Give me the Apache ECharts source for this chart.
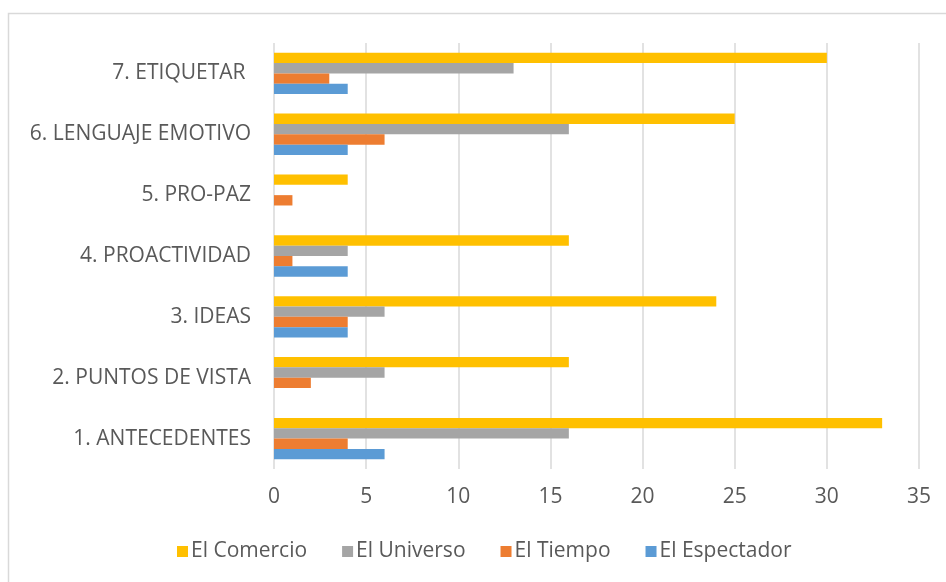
<!DOCTYPE html>
<html>
<head>
<meta charset="utf-8">
<script src="https://cdn.jsdelivr.net/npm/echarts@6/dist/echarts.min.js"></script>
<style>html,body{margin:0;padding:0;background:#fff}#c{width:946px;height:582px}</style>
</head>
<body>
<div id="c"></div>
<script>
var categories = ['1. ANTECEDENTES', '2. PUNTOS DE VISTA', '3. IDEAS', '4. PROACTIVIDAD', '5. PRO-PAZ', '6. LENGUAJE EMOTIVO', '7. ETIQUETAR '];
var elEspectador = [6, 0, 4, 4, 0, 4, 4];
var elTiempo = [4, 2, 4, 1, 1, 6, 3];
var elUniverso = [16, 6, 6, 4, 0, 16, 13];
var elComercio = [33, 16, 24, 16, 4, 25, 30];
var xTicks = [0, 5, 10, 15, 20, 25, 30, 35];

var font = '"Open Sans", sans-serif';
var txt = '#595959';
var chart = echarts.init(document.getElementById('c'));
function s(name, data, color) {
  return { name: name, type: 'bar', data: data, barGap: '0%', barCategoryGap: '32%',
    itemStyle: { color: color }, emphasis: { disabled: true } };
}
chart.setOption({
  animation: false,
  graphic: [{ type: 'rect', shape: { x: 8.5, y: 13.5, width: 960, height: 600 },
    style: { fill: 'none', stroke: '#d9d9d9', lineWidth: 1.5 }, silent: true, z: -1 }],
  grid: { left: 274, right: 27, top: 43, bottom: 113 },
  legend: {
    data: ['El Comercio', 'El Universo', 'El Tiempo', 'El Espectador'],
    left: 177, top: 541, padding: 0, itemWidth: 11, itemHeight: 11, itemGap: 35, icon: 'rect',
    textStyle: { fontFamily: font, fontSize: 21, color: txt, padding: [0, 0, 0, -2] }
  },
  xAxis: {
    type: 'value', min: xTicks[0], max: xTicks[xTicks.length - 1], interval: 5,
    axisLine: { show: false }, axisTick: { show: false },
    splitLine: { lineStyle: { color: '#d9d9d9', width: 1.5 } },
    axisLabel: { fontFamily: font, fontSize: 21, color: txt, margin: 18 }
  },
  yAxis: {
    type: 'category', data: categories,
    axisLine: { show: false }, axisTick: { show: false },
    axisLabel: { fontFamily: font, fontSize: 21, color: txt, margin: 23 }
  },
  series: [
    s('El Comercio', elComercio, '#FFC000'),
    s('El Universo', elUniverso, '#A5A5A5'),
    s('El Tiempo', elTiempo, '#ED7D31'),
    s('El Espectador', elEspectador, '#5B9BD5')
  ]
});
</script>
</body>
</html>
